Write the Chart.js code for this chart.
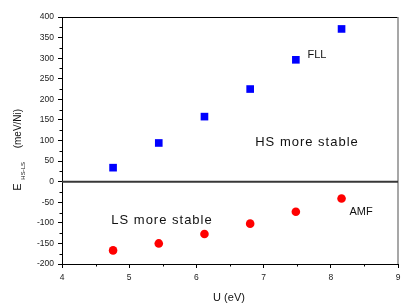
<!DOCTYPE html>
<html>
<head>
<meta charset="utf-8">
<script src="https://cdn.jsdelivr.net/npm/chart.js@4/dist/chart.umd.min.js"></script>
<style>
html,body{margin:0;padding:0;background:#fff;}
#wrap{width:415px;height:307px;}
</style>
</head>
<body>
<div id="wrap"><canvas id="c" width="415" height="307"></canvas></div>
<script>
const U_VALUES = [4.76, 5.44, 6.12, 6.80, 7.48, 8.16];
const FLL_VALUES = [34, 94, 158, 225, 296, 371];
const AMF_VALUES = [-167, -150, -127, -102, -73, -41];
const X_TICKS = [4, 5, 6, 7, 8, 9];
const Y_TICKS = [-200, -150, -100, -50, 0, 50, 100, 150, 200, 250, 300, 350, 400];

const FONT = "'Liberation Sans', Arial, Helvetica, sans-serif";

const toPts = (ys) => U_VALUES.map((u, i) => ({x: u, y: ys[i]}));

const decor = {
  id: 'decor',
  afterDraw(chart) {
    const ctx = chart.ctx;
    const a = chart.chartArea;
    const xs = chart.scales.x, ys = chart.scales.y;
    ctx.save();
    // top border
    ctx.strokeStyle = '#000';
    ctx.lineWidth = 1;
    ctx.beginPath();
    ctx.moveTo(a.left, a.top + 0.5);
    ctx.lineTo(a.right, a.top + 0.5);
    ctx.stroke();
    // right border (gray)
    ctx.strokeStyle = '#8a8a8a';
    ctx.lineWidth = 1.5;
    ctx.beginPath();
    ctx.moveTo(a.right, a.top);
    ctx.lineTo(a.right, a.bottom);
    ctx.stroke();
    // zero line
    const y0 = ys.getPixelForValue(0);
    ctx.strokeStyle = '#383838';
    ctx.lineWidth = 2;
    ctx.beginPath();
    ctx.moveTo(a.left, y0);
    ctx.lineTo(a.right, y0);
    ctx.stroke();
    // minor ticks
    ctx.strokeStyle = '#000';
    ctx.lineWidth = 1;
    ctx.beginPath();
    for (let i = 0; i < Y_TICKS.length - 1; i++) {
      const v = (Y_TICKS[i] + Y_TICKS[i + 1]) / 2;
      const py = Math.round(ys.getPixelForValue(v)) + 0.5;
      ctx.moveTo(a.left - 2.5, py);
      ctx.lineTo(a.left, py);
    }
    for (let i = 0; i < X_TICKS.length - 1; i++) {
      const v = (X_TICKS[i] + X_TICKS[i + 1]) / 2;
      const px = Math.round(xs.getPixelForValue(v)) + 0.5;
      ctx.moveTo(px, a.bottom);
      ctx.lineTo(px, a.bottom + 2.5);
    }
    ctx.stroke();

    // annotations
    ctx.fillStyle = '#111';
    ctx.textAlign = 'center';
    ctx.textBaseline = 'alphabetic';
    ctx.font = '13px ' + FONT;
    if ('letterSpacing' in ctx) ctx.letterSpacing = '1px';
    ctx.fillText('HS more stable', 307, 145.5);
    ctx.fillText('LS more stable', 162, 223.5);
    if ('letterSpacing' in ctx) ctx.letterSpacing = '0px';
    ctx.font = '11px ' + FONT;
    ctx.fillText('FLL', 317, 57.5);
    ctx.fillText('AMF', 361, 215);

    // x title
    ctx.font = '11px ' + FONT;
    ctx.fillStyle = '#111';
    ctx.fillText('U (eV)', 229, 301);

    // y title (rotated, with subscript)
    ctx.save();
    ctx.translate(20.5, 190.7);
    ctx.rotate(-Math.PI / 2);
    ctx.textAlign = 'left';
    ctx.font = '11px ' + FONT;
    ctx.fillText('E', 0, 0);
    ctx.font = '6px ' + FONT;
    ctx.fillText('HS-LS', 11, 4.3);
    ctx.font = '10px ' + FONT;
    ctx.fillText('(meV/Ni)', 42.4, 0);
    ctx.restore();

    ctx.restore();
  }
};

new Chart(document.getElementById('c'), {
  type: 'scatter',
  data: {
    datasets: [
      {
        label: 'FLL',
        data: toPts(FLL_VALUES),
        pointStyle: 'rect',
        pointRadius: 5.4,
        backgroundColor: '#0000ff',
        borderColor: '#0000ff',
        borderWidth: 0
      },
      {
        label: 'AMF',
        data: toPts(AMF_VALUES),
        pointStyle: 'circle',
        pointRadius: 4.3,
        backgroundColor: '#ff0000',
        borderColor: '#ff0000',
        borderWidth: 0
      }
    ]
  },
  options: {
    responsive: false,
    animation: false,
    devicePixelRatio: 1,
    layout: {padding: {top: 17, right: 17, left: 0, bottom: 0}},
    plugins: {legend: {display: false}, tooltip: {enabled: false}, title: {display: false}},
    scales: {
      x: {
        type: 'linear',
        min: 4, max: 9,
        afterBuildTicks: (s) => { s.ticks = X_TICKS.map(v => ({value: v})); },
        ticks: {font: {size: 8.5, family: FONT}, color: '#222', padding: 5, maxRotation: 0},
        grid: {drawOnChartArea: false, drawTicks: true, tickLength: 4, tickColor: '#000', tickWidth: 1},
        border: {display: true, color: '#000', width: 1},
        afterFit: (s) => { s.height = 43; }
      },
      y: {
        type: 'linear',
        min: -200, max: 400,
        afterBuildTicks: (s) => { s.ticks = Y_TICKS.map(v => ({value: v})); },
        ticks: {font: {size: 8.5, family: FONT}, color: '#222', padding: 4},
        grid: {drawOnChartArea: false, drawTicks: true, tickLength: 4, tickColor: '#000', tickWidth: 1},
        border: {display: true, color: '#000', width: 1},
        afterFit: (s) => { s.width = 62; }
      }
    }
  },
  plugins: [decor]
});
</script>
</body>
</html>
